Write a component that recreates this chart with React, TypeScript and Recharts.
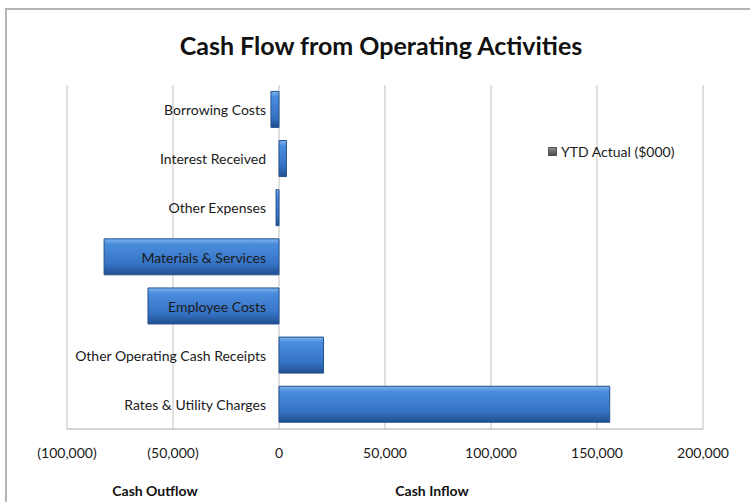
import React from "react";
import { BarChart, Bar, XAxis, YAxis, CartesianGrid } from "recharts";

const categories = [
  "Borrowing Costs",
  "Interest Received",
  "Other Expenses",
  "Materials & Services",
  "Employee Costs",
  "Other Operating Cash Receipts",
  "Rates & Utility Charges",
];
const ytdActual = [-3800, 3500, -1400, -82500, -61800, 21000, 156000];
const xTicks = [-100000, -50000, 0, 50000, 100000, 150000, 200000];
const seriesName = "YTD Actual ($000)";

const data = categories.map((name, i) => ({ name, value: ytdActual[i] }));

const W = 750;
const H = 502;
const AXIS_W = 67;
const M = { top: 85, right: 47, bottom: 43, left: 0 };
const FONT = "Lato, 'Open Sans', sans-serif";

// pixel x of the zero line, category labels sit just left of it
const plotW = W - AXIS_W - M.right;
const zeroX =
  AXIS_W + (plotW * (0 - xTicks[0])) / (xTicks[xTicks.length - 1] - xTicks[0]);

const fmt = (v: number) =>
  v < 0 ? `(${Math.abs(v).toLocaleString("en-US")})` : v.toLocaleString("en-US");

function CategoryTick({ y, payload }: any) {
  return (
    <text
      x={zeroX - 13}
      y={y}
      textAnchor="end"
      dominantBaseline="central"
      fontFamily={FONT}
      fontSize={14}
      fill="#1a1a1a"
    >
      {payload.value}
    </text>
  );
}

const boldText = {
  position: "absolute" as const,
  textAlign: "center" as const,
  fontFamily: FONT,
  fontWeight: 700,
  color: "#111",
};

export default function App() {
  return (
    <div
      style={{
        position: "absolute",
        left: 0,
        top: 0,
        width: W,
        height: H,
        overflow: "hidden",
        background: "#fff",
      }}
    >
      <div
        style={{
          position: "absolute",
          left: 5,
          top: 8,
          width: 760,
          height: 520,
          borderLeft: "2px solid #b4b4b4",
          borderTop: "2px solid #b4b4b4",
        }}
      />
      <div style={{ ...boldText, left: 0, top: 30, width: 762, fontSize: 25 }}>
        Cash Flow from Operating Activities
      </div>
      <div style={{ position: "absolute", left: 0, top: 0 }}>
        <BarChart
          width={W}
          height={H}
          data={data}
          layout="vertical"
          margin={M}
          barCategoryGap="13%"
        >
          <defs>
            <linearGradient id="barFill" x1="0" y1="0" x2="0" y2="1">
              <stop offset="0%" stopColor="#7fb4ec" />
              <stop offset="15%" stopColor="#4a8ddd" />
              <stop offset="70%" stopColor="#3673c4" />
              <stop offset="100%" stopColor="#204f92" />
            </linearGradient>
          </defs>
          <CartesianGrid horizontal={false} stroke="#c2c2c2" />
          <XAxis
            type="number"
            domain={[xTicks[0], xTicks[xTicks.length - 1]]}
            ticks={xTicks}
            tickFormatter={fmt}
            tickLine={false}
            tickSize={0}
            tickMargin={19}
            height={30}
            axisLine={{ stroke: "#a8a8a8" }}
            tick={{ fontFamily: FONT, fontSize: 14, fill: "#1a1a1a" }}
          />
          <Bar
            dataKey="value"
            name={seriesName}
            fill="url(#barFill)"
            stroke="#24508e"
            strokeWidth={1}
            isAnimationActive={false}
          />
          <YAxis
            type="category"
            dataKey="name"
            width={AXIS_W}
            axisLine={false}
            tickLine={false}
            tick={<CategoryTick />}
          />
        </BarChart>
      </div>
      <div
        style={{
          position: "absolute",
          left: 548,
          top: 143,
          display: "flex",
          alignItems: "center",
          fontFamily: FONT,
          fontSize: 14,
          color: "#1a1a1a",
        }}
      >
        <span
          style={{
            width: 7,
            height: 7,
            marginRight: 4,
            background: "linear-gradient(#8a8a8a, #4a4a4a)",
            border: "1px solid #555",
          }}
        />
        {seriesName}
      </div>
      <div style={{ ...boldText, top: 482, left: 95, width: 120, fontSize: 14 }}>
        Cash Outflow
      </div>
      <div style={{ ...boldText, top: 482, left: 372, width: 120, fontSize: 14 }}>
        Cash Inflow
      </div>
    </div>
  );
}
